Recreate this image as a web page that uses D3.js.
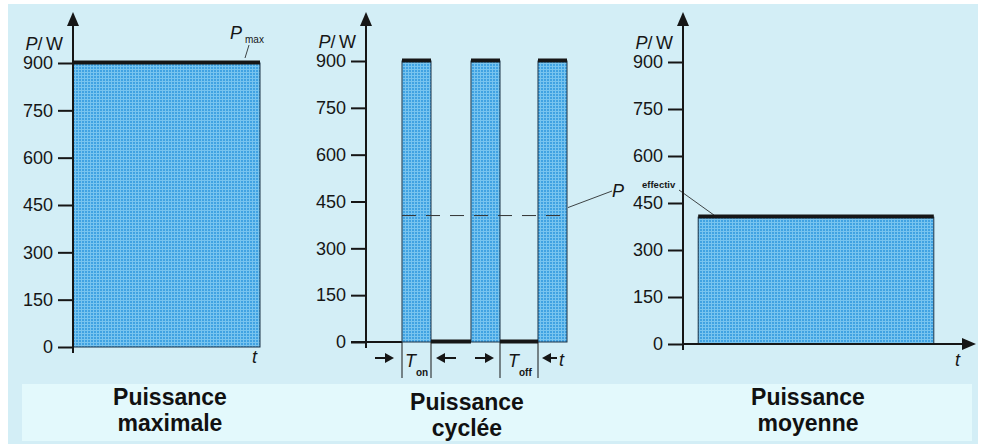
<!DOCTYPE html>
<html>
<head>
<meta charset="utf-8">
<script src="https://cdn.jsdelivr.net/npm/d3@7"></script>
<style>
  html, body { margin: 0; padding: 0; background: #fff; }
  svg { display: block; font-family: "Liberation Sans", Arial, sans-serif; }
</style>
</head>
<body>
<svg id="chart" width="983" height="448"></svg>
<script>
// values
const yTicks = [0, 150, 300, 450, 600, 750, 900];
const pMax = 900;
const pEff = 405;
const onPeriods = [[1.8, 3.25], [5.25, 6.7], [8.6, 10.05]];
const offPeriods = [[3.25, 5.25], [6.7, 8.6]];
const fullPeriod = [0, 10];
const meanPeriod = [0.8, 13.2];
const titles = [["Puissance", "maximale"], ["Puissance", "cyclée"], ["Puissance", "moyenne"]];

const ink = "#161616";
const svg = d3.select("#chart");

// background
svg.append("rect").attr("x", 8).attr("y", 4).attr("width", 970).attr("height", 440).attr("fill", "#d3eef6");
svg.append("rect").attr("x", 22).attr("y", 384).attr("width", 950).attr("height", 57).attr("fill", "#e3f9fc");

// halftone-ish fill
const pat = svg.append("defs").append("pattern")
    .attr("id", "blue").attr("width", 3).attr("height", 3)
    .attr("patternUnits", "userSpaceOnUse");
pat.append("rect").attr("width", 3).attr("height", 3).attr("fill", "#40a2e2");
pat.append("rect").attr("width", 3).attr("height", 1).attr("fill", "#78c4ef");
pat.append("rect").attr("width", 1).attr("height", 3).attr("fill", "#78c4ef");

// panel layout
const panels = [
    { ax: 73, y0: 347, y900: 63, xd: [0, 10], xr: [73, 260], title: 170, tb: 405 },
    { ax: 366, y0: 342, y900: 61, xd: [0, 10], xr: [366, 566], title: 467, tb: 410 },
    { ax: 683, y0: 344, y900: 62, xd: [0, 15], xr: [683, 968], title: 808, tb: 405 }
];
panels.forEach(p => {
    p.y = d3.scaleLinear().domain([0, 900]).range([p.y0, p.y900]);
    p.x = d3.scaleLinear().domain(p.xd).range(p.xr);
});

function drawAxis(p) {
    const g = svg.append("g").attr("transform", `translate(${p.ax},0)`);
    g.call(d3.axisLeft(p.y).tickValues(yTicks).tickSize(15).tickPadding(5));
    g.select(".domain").remove();
    g.selectAll(".tick line").attr("stroke", ink).attr("stroke-width", 2);
    g.selectAll(".tick text").attr("fill", ink).attr("font-size", 18)
        .attr("font-family", "Liberation Sans, Arial, sans-serif");
    // vertical axis with arrow
    svg.append("line").attr("x1", p.ax).attr("x2", p.ax)
        .attr("y1", p.y0 + 6).attr("y2", 24).attr("stroke", ink).attr("stroke-width", 2);
    svg.append("path").attr("d", `M${p.ax},12 L${p.ax - 6},26 L${p.ax + 6},26 Z`).attr("fill", ink);
    // P/W
    const lab = svg.append("text").attr("x", p.ax - 10).attr("y", p.y900 - 13)
        .attr("text-anchor", "end").attr("font-size", 18).attr("fill", ink);
    lab.append("tspan").attr("font-style", "italic").text("P");
    lab.append("tspan").text("/\u2009W");
}

function block(p, x0, x1, v) {
    svg.append("rect")
        .attr("x", p.x(x0)).attr("y", p.y(v))
        .attr("width", p.x(x1) - p.x(x0)).attr("height", p.y(0) - p.y(v))
        .attr("fill", "url(#blue)").attr("stroke", "#1c3346").attr("stroke-width", 1);
    svg.append("line")
        .attr("x1", p.x(x0)).attr("x2", p.x(x1))
        .attr("y1", p.y(v) - 0.5).attr("y2", p.y(v) - 0.5)
        .attr("stroke", ink).attr("stroke-width", 4);
}

function italicT(x, y, txt) {
    svg.append("text").attr("x", x).attr("y", y).attr("font-size", 18)
        .attr("font-style", "italic").attr("fill", ink).text(txt);
}

function arrowH(xFrom, xTo, y) {
    const dir = xTo > xFrom ? 1 : -1;
    svg.append("line").attr("x1", xFrom).attr("x2", xTo - dir * 6).attr("y1", y).attr("y2", y)
        .attr("stroke", ink).attr("stroke-width", 2);
    svg.append("path")
        .attr("d", `M${xTo},${y} L${xTo - dir * 9},${y - 5} L${xTo - dir * 9},${y + 5} Z`)
        .attr("fill", ink);
}

// ---- panel 1 : puissance maximale
const p1 = panels[0];
block(p1, fullPeriod[0], fullPeriod[1], pMax);
drawAxis(p1);
italicT(p1.x(10) - 8, 363, "t");
const pm = svg.append("text").attr("x", 230).attr("y", 39).attr("fill", ink);
pm.append("tspan").attr("font-size", 18).attr("font-style", "italic").text("P");
pm.append("tspan").attr("font-size", 10).attr("dx", 3).attr("dy", 4).text("max");
svg.append("line").attr("x1", 249).attr("y1", 45).attr("x2", 245).attr("y2", 58)
    .attr("stroke", ink).attr("stroke-width", 0.8);

// ---- panel 2 : puissance cyclée
const p2 = panels[1];
svg.append("line").attr("x1", p2.ax - 15).attr("x2", p2.x(onPeriods[0][0]))
    .attr("y1", p2.y(0)).attr("y2", p2.y(0)).attr("stroke", ink).attr("stroke-width", 2);
onPeriods.forEach(d => block(p2, d[0], d[1], pMax));
offPeriods.forEach(d => {
    svg.append("line").attr("x1", p2.x(d[0])).attr("x2", p2.x(d[1]))
        .attr("y1", p2.y(0) - 0.5).attr("y2", p2.y(0) - 0.5)
        .attr("stroke", ink).attr("stroke-width", 4);
});
drawAxis(p2);
svg.append("line")
    .attr("x1", p2.x(onPeriods[0][0])).attr("x2", p2.x(onPeriods[2][1]))
    .attr("y1", p2.y(pEff)).attr("y2", p2.y(pEff))
    .attr("stroke", "#333").attr("stroke-width", 1).attr("stroke-dasharray", "14,10");
svg.append("line").attr("x1", p2.x(onPeriods[2][1]) + 1).attr("y1", p2.y(pEff) - 8)
    .attr("x2", 612).attr("y2", 191).attr("stroke", ink).attr("stroke-width", 0.8);
italicT(612, 197, "P");

// T_on / T_off markers
const markY = 358;
[onPeriods[0][0], onPeriods[0][1], offPeriods[1][0], offPeriods[1][1]].forEach(t => {
    svg.append("line").attr("x1", p2.x(t)).attr("x2", p2.x(t))
        .attr("y1", p2.y(0)).attr("y2", 378).attr("stroke", ink).attr("stroke-width", 1);
});
arrowH(p2.x(onPeriods[0][0]) - 27, p2.x(onPeriods[0][0]) - 8, markY);
arrowH(p2.x(onPeriods[0][1]) + 25, p2.x(onPeriods[0][1]) + 5, markY);
arrowH(p2.x(offPeriods[1][0]) - 25, p2.x(offPeriods[1][0]) - 6, markY);
arrowH(p2.x(offPeriods[1][1]) + 19, p2.x(offPeriods[1][1]) + 4, markY);
italicT(p2.x(offPeriods[1][1]) + 21, 366, "t");
const ton = svg.append("text").attr("x", p2.x(onPeriods[0][0]) + 3).attr("y", 367).attr("fill", ink);
ton.append("tspan").attr("font-size", 18).attr("font-style", "italic").text("T");
ton.append("tspan").attr("font-size", 10).attr("font-weight", "bold").attr("dx", 0).attr("dy", 9).text("on");
const toff = svg.append("text").attr("x", p2.x(offPeriods[1][0]) + 8).attr("y", 367).attr("fill", ink);
toff.append("tspan").attr("font-size", 18).attr("font-style", "italic").text("T");
toff.append("tspan").attr("font-size", 10).attr("font-weight", "bold").attr("dx", 0).attr("dy", 9).text("off");

// ---- panel 3 : puissance moyenne
const p3 = panels[2];
block(p3, meanPeriod[0], meanPeriod[1], pEff);
drawAxis(p3);
svg.append("line").attr("x1", p3.ax).attr("x2", 966).attr("y1", p3.y(0)).attr("y2", p3.y(0))
    .attr("stroke", ink).attr("stroke-width", 2);
svg.append("path").attr("d", `M976,${p3.y(0)} L962,${p3.y(0) - 6} L962,${p3.y(0) + 6} Z`).attr("fill", ink);
italicT(955, 366, "t");
svg.append("text").attr("x", 642).attr("y", 188).attr("font-size", 9.5).attr("font-weight", "bold")
    .attr("fill", ink).text("effectiv");
svg.append("line").attr("x1", 679).attr("y1", 190).attr("x2", 714).attr("y2", p3.y(pEff) - 2)
    .attr("stroke", ink).attr("stroke-width", 0.8);

// titles
panels.forEach((p, i) => {
    const t = svg.append("text").attr("text-anchor", "middle").attr("font-size", 23)
        .attr("font-weight", "bold").attr("fill", "#111");
    t.append("tspan").attr("x", p.title).attr("y", p.tb).text(titles[i][0]);
    t.append("tspan").attr("x", p.title).attr("y", p.tb + 26).text(titles[i][1]);
});
</script>
</body>
</html>
